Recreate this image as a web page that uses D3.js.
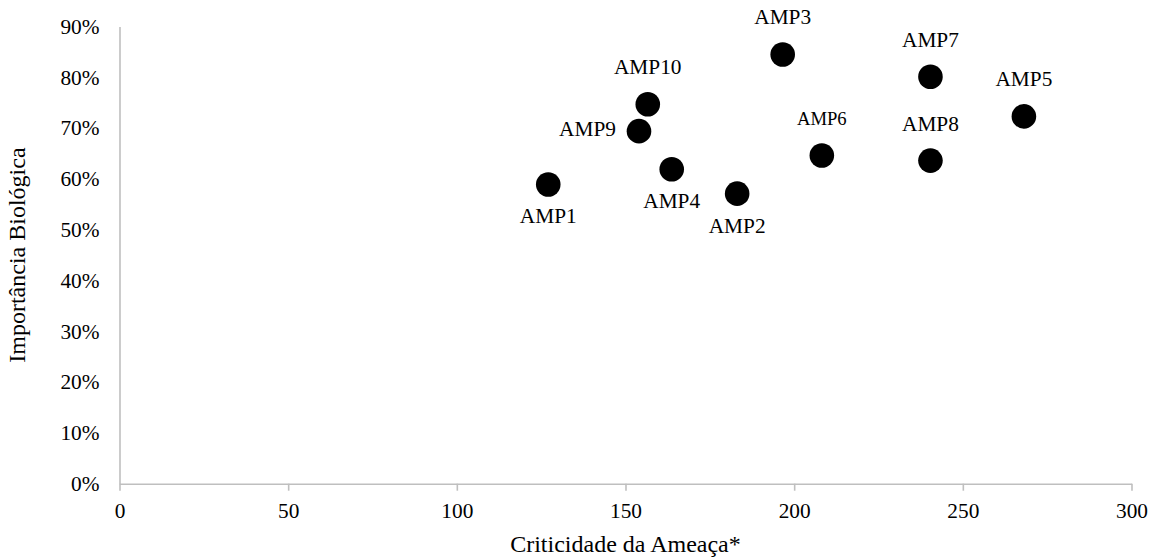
<!DOCTYPE html>
<html>
<head>
<meta charset="utf-8">
<script src="https://cdn.jsdelivr.net/npm/d3@7"></script>
<style>
  html, body { margin: 0; padding: 0; background: #fff; }
  svg, svg text { font-family: "Liberation Serif", "Times New Roman", serif !important; }
</style>
</head>
<body>
<svg id="chart" width="1152" height="558"></svg>
<script>
// ---- data ----
const names = ["AMP1","AMP2","AMP3","AMP4","AMP5","AMP6","AMP7","AMP8","AMP9","AMP10"];
const criticidade = [127.1, 183.1, 196.6, 163.7, 268.1, 208.2, 240.4, 240.4, 154.0, 156.6];
const importancia = [0.589, 0.571, 0.845, 0.619, 0.723, 0.646, 0.801, 0.636, 0.694, 0.747];
const labelPlacement = ["below","below","above","below","above","above","above","above","left","above"];
const xTicks = [0, 50, 100, 150, 200, 250, 300];
const yTicks = [0, 0.1, 0.2, 0.3, 0.4, 0.5, 0.6, 0.7, 0.8, 0.9];
const xTitle = "Criticidade da Ameaça*";
const yTitle = "Importância Biológica";

// ---- layout ----
const svg = d3.select("#chart");
const mLeft = 119.5, mRight = 1131.5, mTop = 26.5, mBottom = 483.7;
const x = d3.scaleLinear().domain([0, 300]).range([mLeft, mRight]);
const y = d3.scaleLinear().domain([0, 0.9]).range([mBottom, mTop]);
const axisColor = "#bfbfbf";
const fontSize = 21.33;
const titleSize = 24;
const fontFam = "'Liberation Serif', 'Times New Roman', serif";

// x axis
const xAxis = svg.append("g").attr("transform", `translate(0,${mBottom})`)
  .call(d3.axisBottom(x).tickValues(xTicks).tickSize(7).tickPadding(12).tickSizeOuter(0).tickFormat(d3.format("d")));
xAxis.attr("font-family", null);
xAxis.select(".domain").attr("stroke", axisColor).attr("stroke-width", 1.6);
xAxis.selectAll(".tick line").attr("stroke", axisColor).attr("stroke-width", 1.6);
xAxis.selectAll(".tick text").attr("fill", "#000").attr("font-size", fontSize).style("font-family", fontFam);

// y axis
const yAxis = svg.append("g").attr("transform", `translate(${mLeft},0)`)
  .call(d3.axisLeft(y).tickValues(yTicks).tickSize(0).tickPadding(20).tickFormat(d3.format(".0%")));
yAxis.attr("font-family", null);
yAxis.select(".domain").attr("stroke", axisColor).attr("stroke-width", 1.6);
yAxis.selectAll(".tick text").attr("fill", "#000").attr("font-size", fontSize).style("font-family", fontFam);

// titles
svg.append("text")
  .attr("x", (mLeft + mRight) / 2).attr("y", 546)
  .attr("text-anchor", "middle").attr("dominant-baseline", "middle")
  .attr("font-size", titleSize).style("font-family", fontFam).text(xTitle);
svg.append("text")
  .attr("transform", `translate(19,${(mTop + mBottom) / 2}) rotate(-90)`)
  .attr("text-anchor", "middle").attr("dominant-baseline", "middle")
  .attr("font-size", titleSize).style("font-family", fontFam).text(yTitle);

// points
const pts = names.map((n, i) => ({ name: n, cx: criticidade[i], cy: importancia[i], pos: labelPlacement[i] }));
svg.append("g").selectAll("circle").data(pts).join("circle")
  .attr("cx", d => x(d.cx)).attr("cy", d => y(d.cy)).attr("r", 12.3).attr("fill", "#000");

// labels
svg.append("g").selectAll("text").data(pts).join("text")
  .attr("x", d => d.pos === "left" ? x(d.cx) - 23 : x(d.cx))
  .attr("y", d => d.pos === "above" ? y(d.cy) - 35 : d.pos === "below" ? y(d.cy) + 34 : y(d.cy))
  .attr("text-anchor", d => d.pos === "left" ? "end" : "middle")
  .attr("dominant-baseline", "middle")
  .attr("font-size", d => d.name === "AMP6" ? 18.67 : fontSize)
  .style("font-family", fontFam)
  .attr("fill", "#000")
  .text(d => d.name);
</script>
</body>
</html>
